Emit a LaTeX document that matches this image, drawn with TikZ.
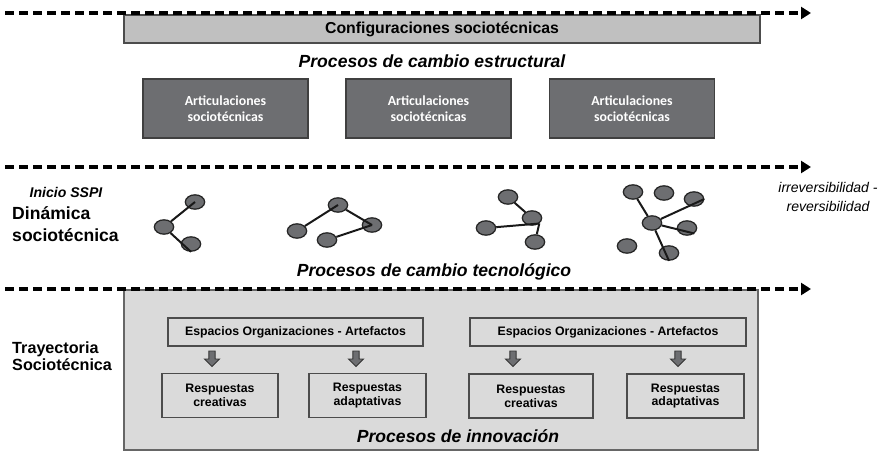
\documentclass[tikz,border=0pt]{standalone}
\usepackage{fontspec}
\setmainfont{Liberation Sans}
\newfontfamily\calfont{Carlito}
\usetikzlibrary{shapes.geometric,arrows.meta}
\definecolor{darkbox}{HTML}{6D6E71}
\definecolor{lightbox}{HTML}{DADADA}
\definecolor{confbox}{HTML}{C0C0C0}

\begin{document}
\begin{tikzpicture}[x=0.03cm, y=-0.03cm,
			timeline/.style={line width=2.8pt, dash pattern=on 0.27cm off 0.15cm, -{Triangle[length=0.3cm,width=0.36cm]}},
			articulacion/.style={draw=black!75, line width=1pt, fill=darkbox, text=white, align=center, minimum width=4.95cm, minimum height=1.77cm, font=\calfont\bfseries\fontsize{11.8}{13.7}\selectfont},
			caja/.style={draw=black!70, line width=1pt, fill=lightbox, align=center, inner sep=0pt, font=\bfseries\fontsize{10.5}{11.8}\selectfont},
			proceso/.style={font=\bfseries\itshape\fontsize{15}{18}\selectfont},
			actor/.style={ellipse, draw=black!85, line width=1.1pt, fill=darkbox, minimum width=0.58cm, minimum height=0.43cm, inner sep=0pt},
			lazo/.style={line width=1.7pt, black!90},
			bajada/.pic={\draw[fill=darkbox, draw=black!80, line width=0.8pt] (-3.2,-8) -- (3.2,-8) -- (3.2,0) -- (7.5,0) -- (0,7.5) -- (-7.5,0) -- (-3.2,0) -- cycle;}]
			\useasboundingbox (0,0) rectangle (884,452);
			\node[draw=black!70, line width=1pt, fill=confbox, minimum width=19.08cm, minimum height=0.84cm, font=\bfseries\fontsize{13.5}{16}\selectfont] (conf) at (442,29) {Configuraciones sociotécnicas};
			\node[proceso] (estructural) at (432,61) {Procesos de cambio estructural};
			\node[articulacion] (art1) at (225.5,108.5) {Articulaciones\\sociotécnicas};
			\node[articulacion] (art2) at (428.5,108.5) {Articulaciones\\sociotécnicas};
			\node[articulacion] (art3) at (632,108.5) {Articulaciones\\sociotécnicas};

			\node[font=\bfseries\itshape\fontsize{12}{14}\selectfont] (inicio) at (66,192) {Inicio SSPI};
			\node[anchor=west, align=left, inner sep=0pt, font=\bfseries\fontsize{15}{18.8}\selectfont] (dinamica) at (12,224) {Dinámica\\sociotécnica};
			\node[align=center, font=\itshape\fontsize{12}{17}\selectfont] (irrev) at (828,197) {irreversibilidad -\\reversibilidad};

			\node[actor] (n1) at (195,202) {};
			\node[actor] (n2) at (164,227) {};
			\node[actor] (n3) at (191,244) {};
			\node[actor] (a) at (297,231) {};
			\node[actor] (b) at (338,205) {};
			\node[actor] (c) at (372,225) {};
			\node[actor] (d) at (327,240) {};
			\node[actor] (p) at (508,197) {};
			\node[actor] (q) at (532,218) {};
			\node[actor] (r) at (486,228) {};
			\node[actor] (s) at (535,242) {};
			\node[actor] (h) at (633,192) {};
			\node[actor] (i) at (664,193) {};
			\node[actor] (j) at (694,199) {};
			\node[actor] (k) at (652,223) {};
			\node[actor] (l) at (687,228) {};
			\node[actor] (m) at (627,246) {};
			\node[actor] (o) at (669,253) {};
			\draw[lazo] (n2) -- (n1.center);
			\draw[lazo] (n2) -- (n3.south);
			\draw[lazo] (a) -- (b.center);
			\draw[lazo] (b) -- (c.center);
			\draw[lazo] (d) -- (c.center);
			\draw[lazo] (p) -- (q);
			\draw[lazo] (r) -- (q.south east);
			\draw[lazo] (q.south east) -- (s);
			\draw[lazo] (h) -- (k);
			\draw[lazo] (k) -- (j.east);
			\draw[lazo] (k) -- (l.south east);
			\draw[lazo] (k) -- (o.south);

			\node[proceso] (tecnologico) at (434,272) {Procesos de cambio tecnológico};

			\node[draw=black!60, line width=1pt, fill=lightbox, minimum width=19.02cm, minimum height=4.8cm, inner sep=0pt] (trayecto) at (441,370) {};
			\node[anchor=west, align=left, inner sep=0pt, font=\bfseries\fontsize{13.8}{14.5}\selectfont] (trayectoria) at (12,356) {Trayectoria\\Sociotécnica};
			\node[caja, minimum width=7.65cm, minimum height=0.84cm] (esp1) at (295.5,332) {Espacios Organizaciones - Artefactos};
			\node[caja, minimum width=8.28cm, minimum height=0.84cm] (esp2) at (608,332) {Espacios Organizaciones - Artefactos};
			\node[caja, minimum width=3.48cm, minimum height=1.32cm] (resp1) at (220,395.5) {Respuestas\\creativas};
			\node[caja, minimum width=3.51cm, minimum height=1.32cm] (resp2) at (367.5,395.5) {Respuestas\\adaptativas};
			\node[caja, minimum width=3.72cm, minimum height=1.32cm] (resp3) at (531,396) {Respuestas\\creativas};
			\node[caja, minimum width=3.51cm, minimum height=1.32cm] (resp4) at (685.5,396) {Respuestas\\adaptativas};
			\pic (ar1) at (212,359) {bajada};
			\pic (ar2) at (356,359) {bajada};
			\pic (ar3) at (513,359) {bajada};
			\pic (ar4) at (678,359) {bajada};
			\node[proceso] (innovacion) at (458,436) {Procesos de innovación};

			\coordinate (t1a) at (5,13);
			\coordinate (t1b) at (811,13);
			\coordinate (t2a) at (5,167);
			\coordinate (t2b) at (811,167);
			\coordinate (t3a) at (5,289);
			\coordinate (t3b) at (811,289);
			\draw[timeline] (t1a) -- (t1b);
			\draw[timeline] (t2a) -- (t2b);
			\draw[timeline] (t3a) -- (t3b);
		\end{tikzpicture}
\end{document}
